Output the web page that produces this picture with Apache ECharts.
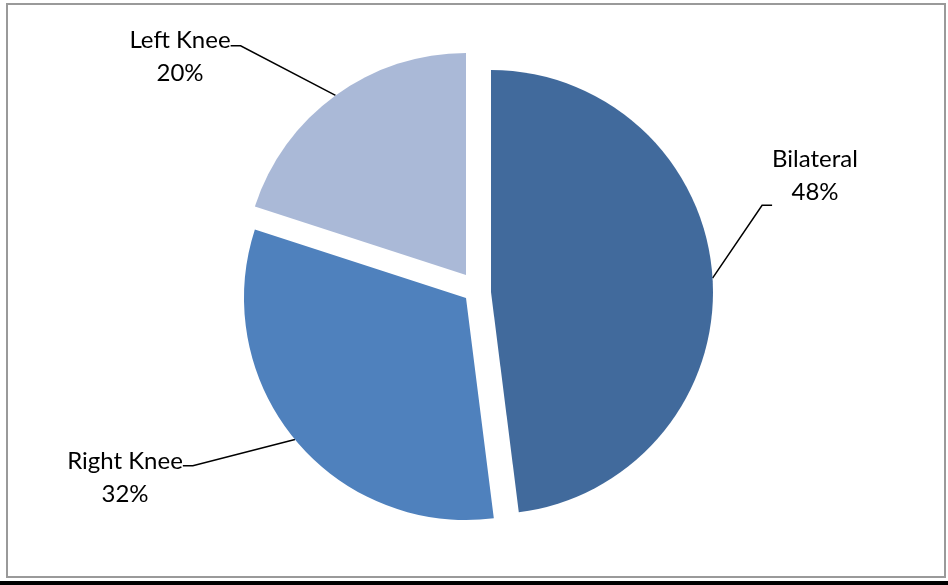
<!DOCTYPE html>
<html>
<head>
<meta charset="utf-8">
<style>
  html, body { margin: 0; padding: 0; background: #ffffff; }
  #chart { width: 948px; height: 585px; }
</style>
<script src="https://cdn.jsdelivr.net/npm/echarts@6/dist/echarts.min.js"></script>
</head>
<body>
<div id="chart"></div>
<script>
// Knee involvement shares (percent)
const categories = ['Bilateral', 'Right Knee', 'Left Knee'];
const shares = [48, 32, 20];

// Styling for each slice
const sliceColors = ['#416A9C', '#4F81BD', '#AAB9D7'];
// Each slice is pulled out of the pie by its own amount, so each gets its own centre
const sliceCenters = [[491, 292], [466, 298], [466, 275]];
// Centre of each label box; the leader line meets the box at this height
const labelSpots = [[815, 203], [125, 468], [180, 48]];
// Blank space added above (negative) or below (positive) the two text lines,
// which moves the point where the leader line meets the label
const labelGaps = [54, -20, -18];

const RADIUS = 222;

function labelText(name, value, gap) {
  const body = '{t|' + name + '}\n{t|' + value + '%}';
  if (gap > 0) return body + '\n{g' + gap + '|\u00a0}';
  if (gap < 0) return '{g' + (-gap) + '|\u00a0}\n' + body;
  return body;
}

function gapStyles() {
  const rich = {
    t: { fontFamily: 'Lato', fontSize: 24, lineHeight: 33, color: '#000000', align: 'center' }
  };
  labelGaps.forEach(g => {
    const h = Math.abs(g);
    rich['g' + h] = { fontSize: 1, lineHeight: h, height: h };
  });
  return rich;
}

function sliceSeries(owner) {
  return {
    type: 'pie',
    center: sliceCenters[owner],
    radius: RADIUS,
    startAngle: 90,
    clockwise: true,
    avoidLabelOverlap: false,
    silent: true,
    emphasis: { disabled: true },
    animation: false,
    label: {
      show: true,
      position: 'outside',
      formatter: p => labelText(p.name, p.value, labelGaps[p.dataIndex]),
      rich: gapStyles(),
      color: '#000000',
      align: 'center'
    },
    labelLine: {
      show: true,
      length: 10,
      length2: 10,
      smooth: false,
      lineStyle: { color: '#000000', width: 1.5 }
    },
    labelLayout: p => ({
      x: labelSpots[p.dataIndex][0],
      y: labelSpots[p.dataIndex][1],
      align: 'center',
      verticalAlign: 'middle'
    }),
    data: categories.map((name, i) => {
      const own = i === owner;
      return {
        name: name,
        value: shares[i],
        itemStyle: { color: own ? sliceColors[i] : 'rgba(0,0,0,0)' },
        label: { show: own },
        labelLine: { show: own }
      };
    })
  };
}

const chart = echarts.init(document.getElementById('chart'), null, { renderer: 'canvas' });
chart.setOption({
  backgroundColor: '#ffffff',
  animation: false,
  graphic: [
    {
      type: 'rect',
      shape: { x: 7, y: 4, width: 938, height: 573 },
      style: { fill: 'none', stroke: '#9a9a9a', lineWidth: 2 },
      z: -1
    },
    {
      type: 'rect',
      shape: { x: 0, y: 581, width: 948, height: 4 },
      style: { fill: '#000000' },
      z: -1
    }
  ],
  series: categories.map((_, i) => sliceSeries(i))
});
</script>
</body>
</html>
